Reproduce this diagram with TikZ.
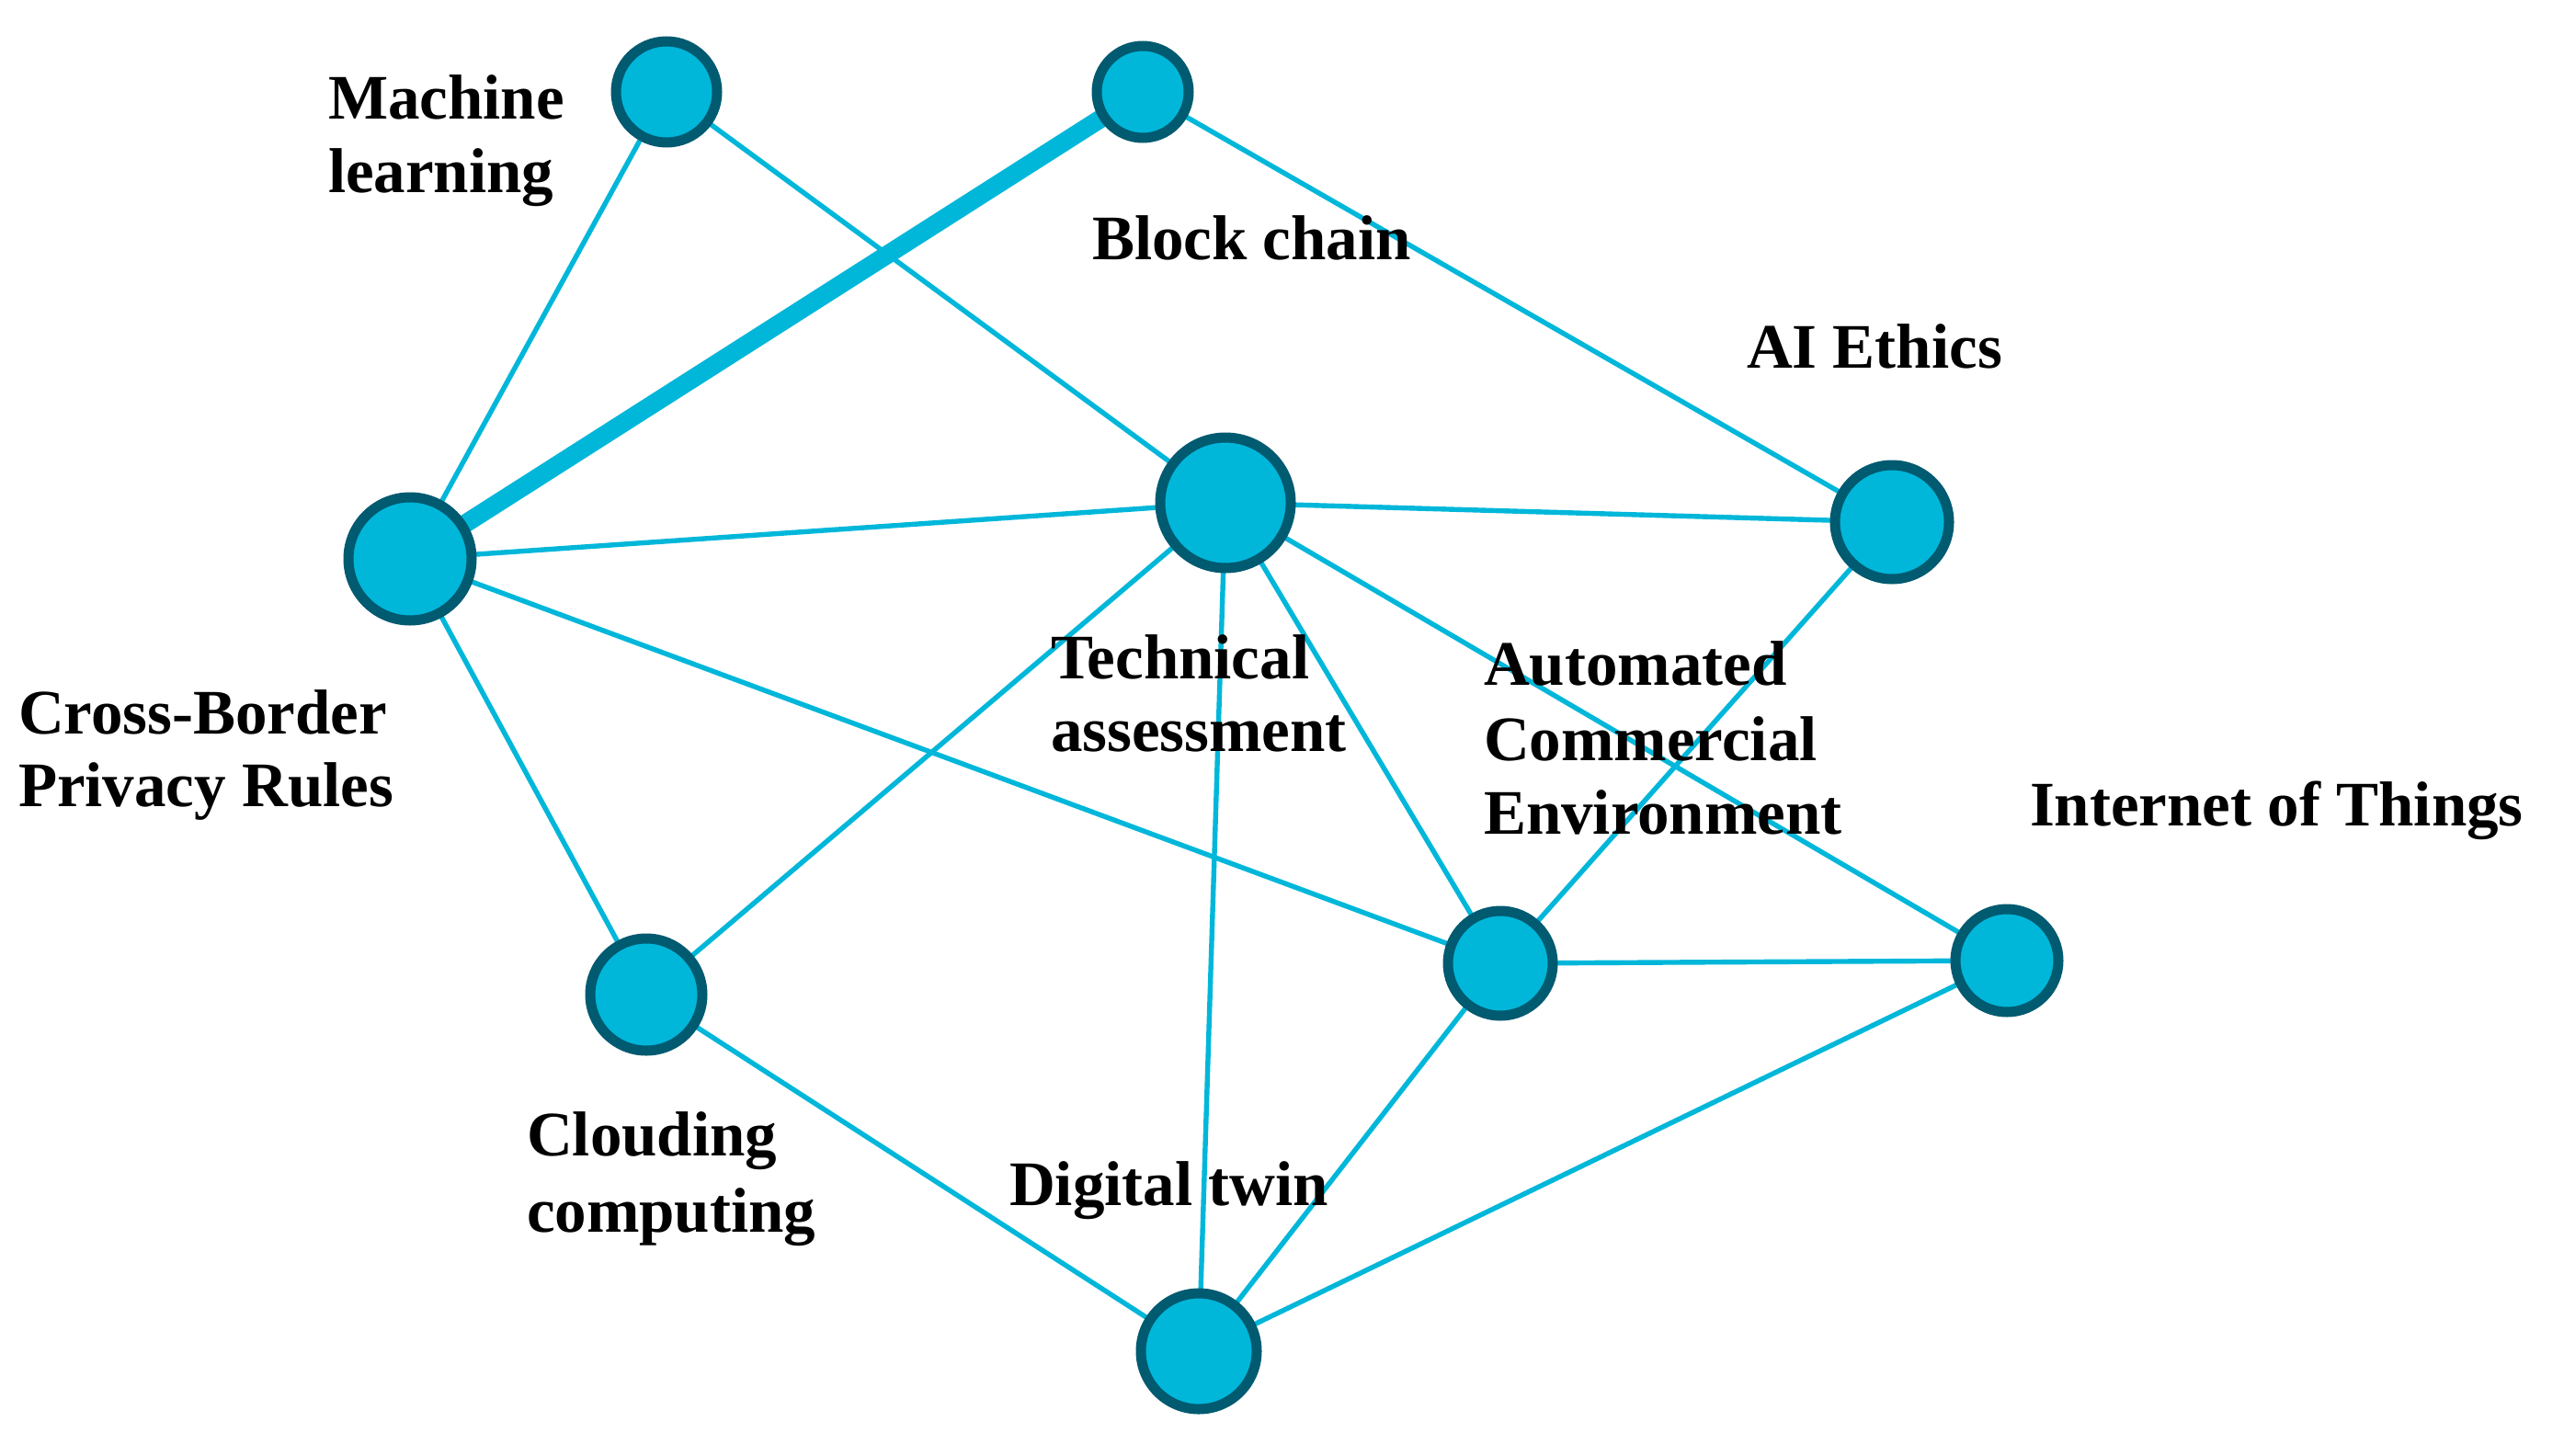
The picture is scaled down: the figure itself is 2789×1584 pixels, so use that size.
\documentclass[tikz,border=0pt]{standalone}
\usepackage{fontspec}
\setmainfont{Liberation Serif}
\usetikzlibrary{backgrounds}
\definecolor{nodefill}{RGB}{0,183,218}
\definecolor{nodeborder}{RGB}{0,90,112}
\definecolor{edgecol}{RGB}{0,183,218}
\begin{document}
\begin{tikzpicture}[x=0.5pt,y=-0.5pt,
  topic/.style={circle,fill=nodefill,draw=nodeborder,line width=5.5pt,inner sep=0pt,outer sep=0pt},
  link/.style={draw=edgecol,line width=2.7pt},
  strong/.style={draw=edgecol,line width=10pt},
  lbl/.style={anchor=base west,inner sep=0pt,outer sep=0pt,font=\fontsize{34.5}{40}\selectfont\bfseries}]
\useasboundingbox (0,0) rectangle (2789,1584);
% nodes
\node[topic,minimum size=55pt] (ml) at (725,100) {};
\node[topic,minimum size=50pt] (bc) at (1243,100) {};
\node[topic,minimum size=67pt] (cb) at (446,608) {};
\node[topic,minimum size=71pt] (ta) at (1333,547) {};
\node[topic,minimum size=62pt] (ai) at (2058,568) {};
\node[topic,minimum size=61pt] (cc) at (703,1082) {};
\node[topic,minimum size=57pt] (ac) at (1632,1048) {};
\node[topic,minimum size=56pt] (iot) at (2183,1045) {};
\node[topic,minimum size=63pt] (dt) at (1304,1470) {};
% edges
\begin{pgfonlayer}{background}
\fill[white] (0,0) rectangle (2789,1584);
\draw[link] (ml) -- (cb);
\draw[link] (ml) -- (ta);
\draw[strong] (bc) -- (cb);
\draw[link] (bc) -- (ai);
\draw[link] (cb) -- (ta);
\draw[link] (cb) -- (ac);
\draw[link] (cb) -- (cc);
\draw[link] (ta) -- (ai);
\draw[link] (ta) -- (cc);
\draw[link] (ta) -- (dt);
\draw[link] (ta) -- (ac);
\draw[link] (ta) -- (iot);
\draw[link] (ai) -- (ac);
\draw[link] (ac) -- (iot);
\draw[link] (ac) -- (dt);
\draw[link] (iot) -- (dt);
\draw[link] (cc) -- (dt);
\end{pgfonlayer}
% labels
\node[lbl] (mlA) at (357,130) {Machine};
\node[lbl] (mlB) at (357,209) {learning};
\node[lbl] (bcA) at (1188,282) {Block chain};
\node[lbl] (aiA) at (1900,400) {AI Ethics};
\node[lbl] (cbA) at (20,798) {Cross-Border};
\node[lbl] (cbB) at (20,877) {Privacy Rules};
\node[lbl] (taA) at (1143,738) {Technical};
\node[lbl] (taB) at (1143,817) {assessment};
\node[lbl] (acA) at (1614,745) {Automated};
\node[lbl] (acB) at (1614,827) {Commercial};
\node[lbl] (acC) at (1614,907) {Environment};
\node[lbl] (iotA) at (2208,898) {Internet of Things};
\node[lbl] (ccA) at (573,1257) {Clouding};
\node[lbl] (ccB) at (573,1340) {computing};
\node[lbl] (dtA) at (1098,1311) {Digital twin};
\end{tikzpicture}
\end{document}
